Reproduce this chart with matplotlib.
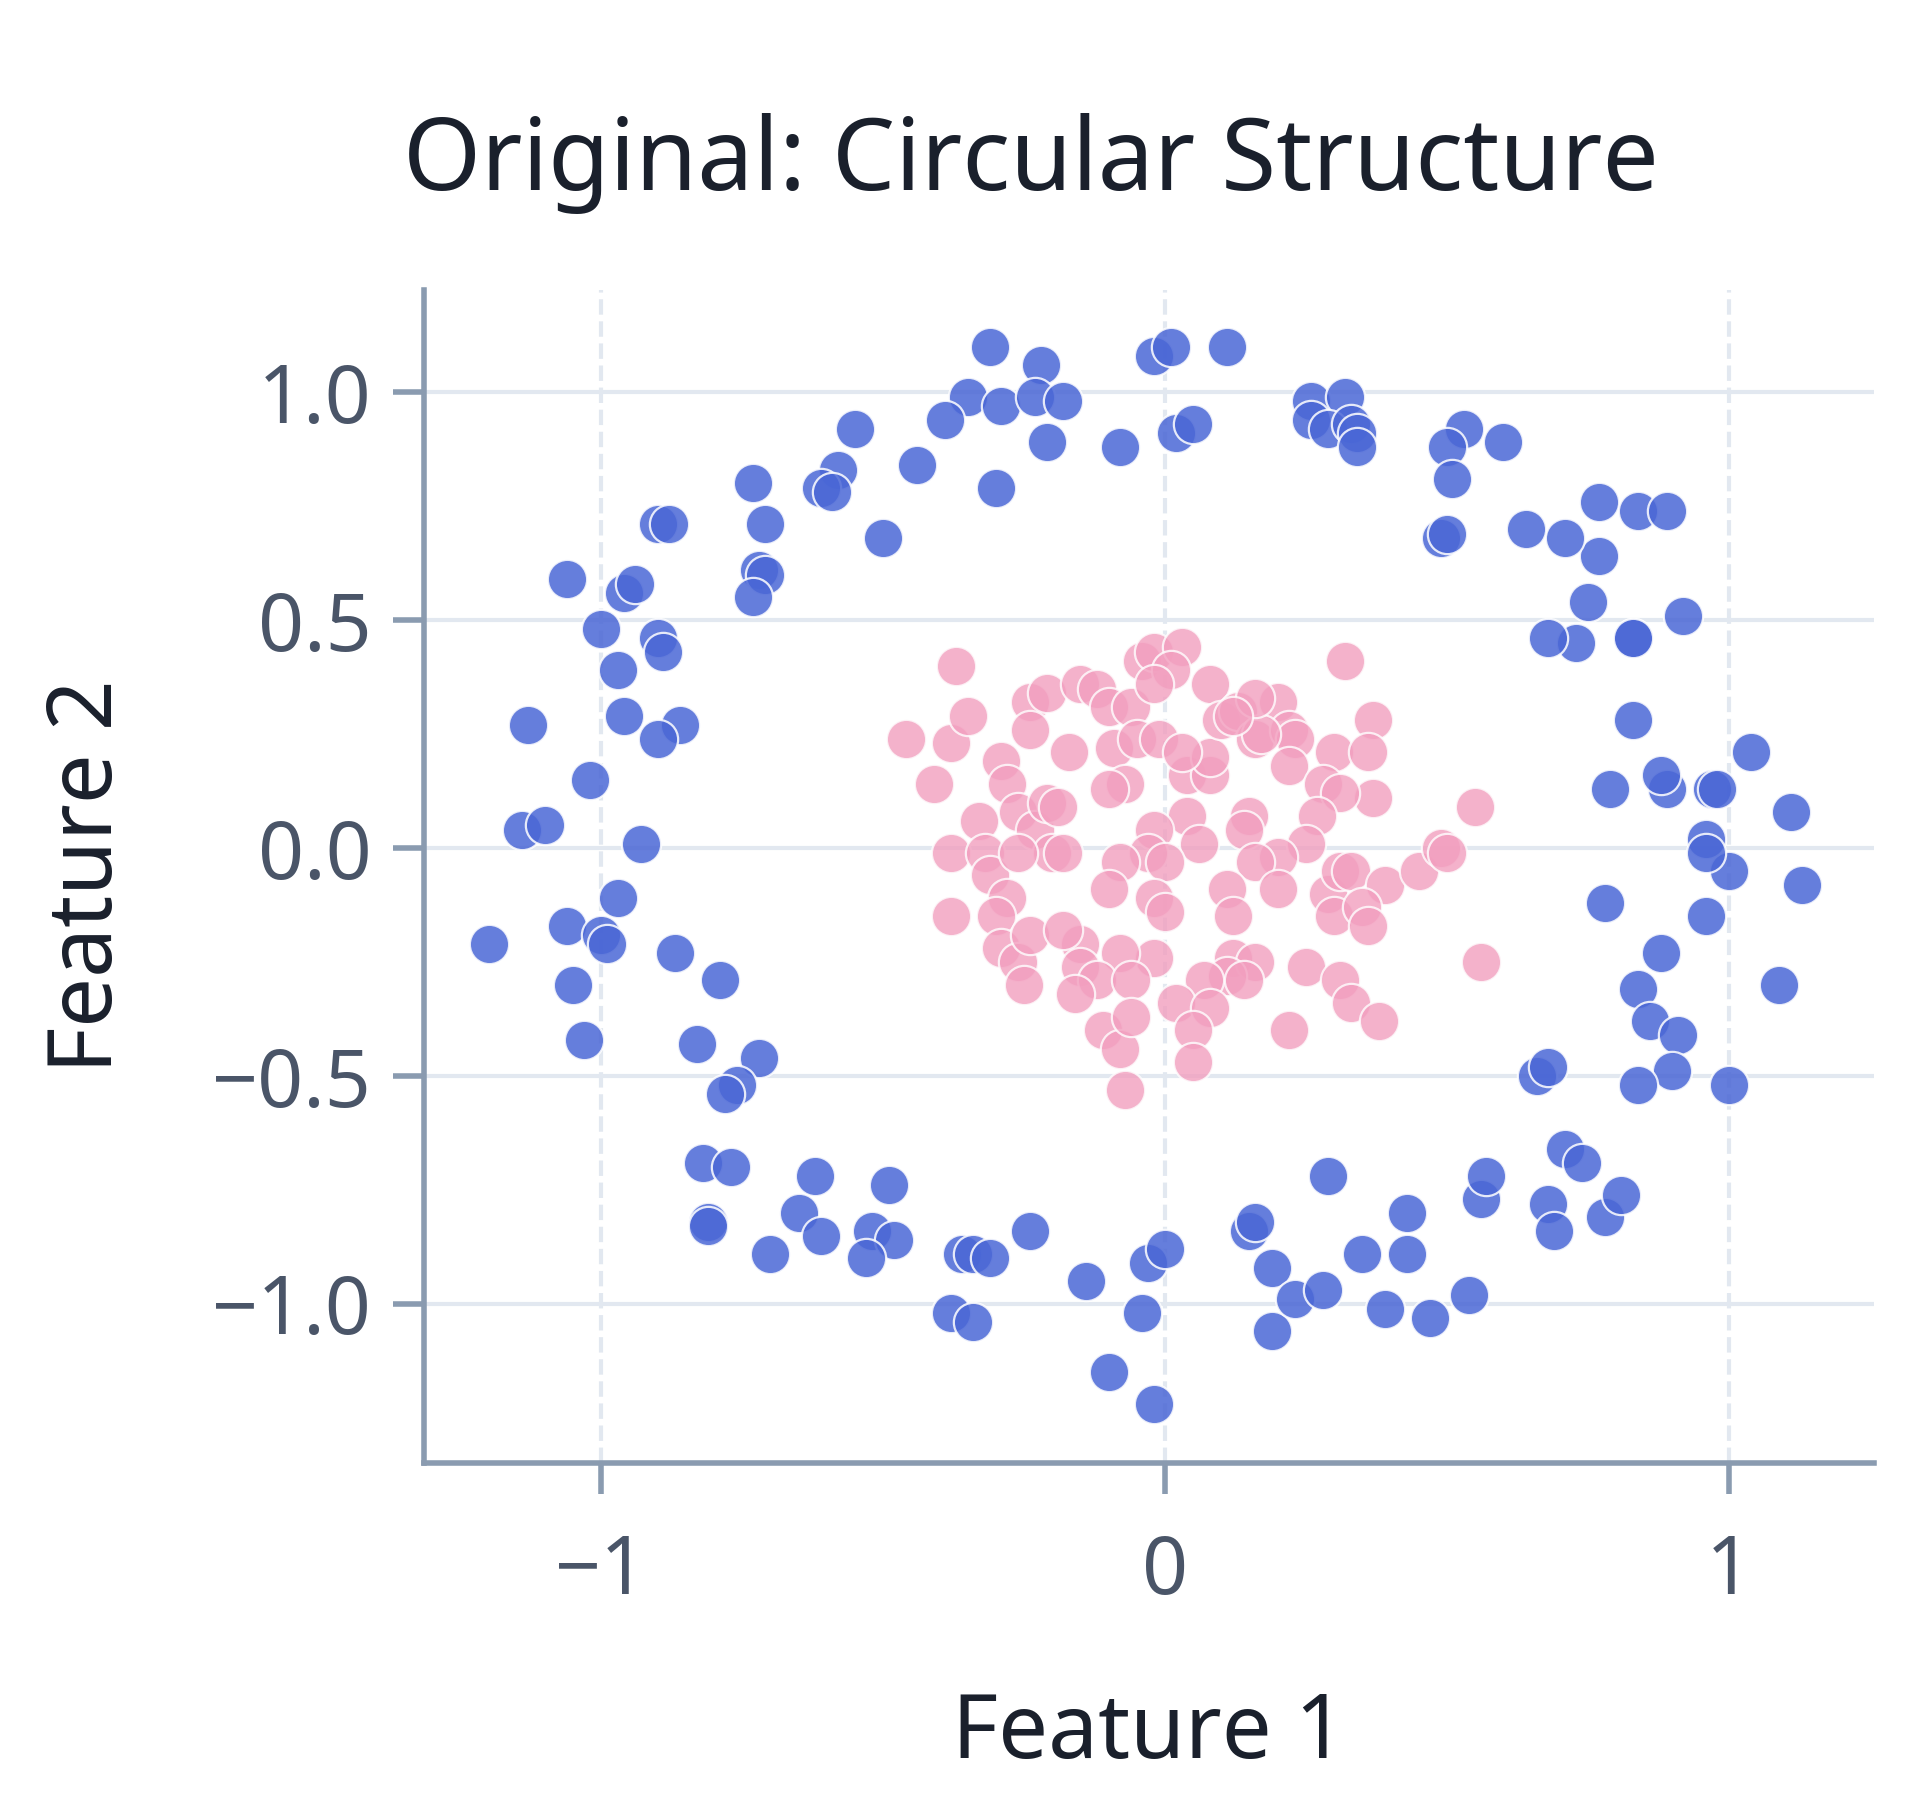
import numpy as np
import matplotlib
matplotlib.use("Agg")
import matplotlib.pyplot as plt

plt.rcParams['font.family'] = ['Noto Sans', 'DejaVu Sans']

# outer ring (class 0)
outer_x = [-0.31, -0.22, -0.02, 0.01, 0.11, -0.35, -0.29, -0.23, -0.18, -0.21, -0.08, 0.02, 0.05,
           -0.39, -0.30, -0.55, -0.44, -0.58, -0.61, -0.59, -0.73, -0.71, -0.50, -0.90, -0.88, -0.72,
           -0.71, -0.73, -1.06, -0.96, -0.94, -1.00, -0.90, -0.89, -0.97, -1.13, -0.96, -0.86, -0.90,
           -1.02, -1.14, -1.10, -0.93, -0.97, -1.06, -1.00, -0.99, -1.20, -0.87, -0.79, -1.05, -1.03,
           -0.83, -0.72, -0.76, -0.78, -0.82, -0.77, -0.81, -0.81, -0.62, -0.65, -0.49, -0.61, -0.70,
           -0.52, -0.48, -0.53, -0.36, -0.34, -0.31, -0.24, -0.38, -0.34, -0.14, -0.10, -0.02, -0.04,
           -0.03, 0.00, 0.15, 0.16, 0.19, 0.19, 0.23, 0.28, 0.29, 0.35, 0.39, 0.43, 0.43, 0.47, 0.54,
           0.56, 0.57, 0.66, 0.68, 0.68, 0.69, 0.71, 0.74, 0.78, 0.81, 0.78, 0.88, 0.84, 0.86, 0.91,
           0.90, 0.84, 1.00, 0.96, 1.09, 1.13, 1.00, 0.96, 0.96, 1.11, 0.97, 0.98, 1.04, 0.89, 0.88,
           0.79, 0.83, 0.92, 0.83, 0.83, 0.75, 0.73, 0.68, 0.77, 0.71, 0.64, 0.77, 0.84, 0.89, 0.60,
           0.53, 0.50, 0.51, 0.49, 0.50, 0.26, 0.32, 0.26, 0.29, 0.33, 0.34, 0.34]
outer_y = [1.10, 1.06, 1.08, 1.10, 1.10, 0.99, 0.97, 0.99, 0.98, 0.89, 0.88, 0.91, 0.93,
           0.94, 0.79, 0.92, 0.84, 0.83, 0.79, 0.78, 0.80, 0.71, 0.68, 0.71, 0.71, 0.61,
           0.60, 0.55, 0.59, 0.56, 0.58, 0.48, 0.46, 0.43, 0.39, 0.27, 0.29, 0.27, 0.24,
           0.15, 0.04, 0.05, 0.01, -0.11, -0.17, -0.19, -0.21, -0.21, -0.23, -0.29, -0.30, -0.42,
           -0.43, -0.46, -0.52, -0.54, -0.69, -0.70, -0.82, -0.83, -0.72, -0.80, -0.74, -0.85, -0.89,
           -0.84, -0.86, -0.90, -0.89, -0.89, -0.90, -0.84, -1.02, -1.04, -0.95, -1.15, -1.22, -1.02,
           -0.91, -0.88, -0.84, -0.82, -0.92, -1.06, -0.99, -0.97, -0.72, -0.89, -1.01, -0.80, -0.89, -1.03, -0.98,
           -0.77, -0.72, -0.50, -0.48, -0.78, -0.84, -0.66, -0.69, -0.81, -0.76, -0.12, -0.23, -0.31, -0.38, -0.41,
           -0.49, -0.52, -0.52, -0.15, -0.30, -0.08, -0.05, 0.02, -0.01, 0.08, 0.13, 0.13, 0.21, 0.13, 0.16,
           0.13, 0.28, 0.51, 0.46, 0.46, 0.54, 0.45, 0.46, 0.64, 0.68, 0.70, 0.76, 0.74, 0.74, 0.89,
           0.92, 0.88, 0.81, 0.68, 0.69, 0.98, 0.99, 0.94, 0.92, 0.93, 0.91, 0.88]

# inner cluster (class 1)
inner_x = [-0.37, -0.46, -0.38, -0.35, -0.41, -0.38, -0.33, -0.32, -0.31, -0.28, -0.38, -0.30, -0.29,
           -0.26, -0.25, -0.24, -0.29, -0.28, -0.24, -0.24, -0.21, -0.26, -0.23, -0.21, -0.19, -0.20,
           -0.18, -0.26, -0.17, -0.15, -0.12, -0.10, -0.06, -0.04, -0.02, 0.03, 0.01, -0.02, 0.08,
           -0.09, -0.05, -0.01, -0.07, -0.10, 0.04, 0.08, 0.08, 0.10, 0.13, 0.16, 0.20, 0.22, 0.23,
           0.17, 0.22, 0.30, 0.32, 0.37, 0.36, 0.37, 0.28, 0.31, 0.27, 0.25, 0.20, 0.15, 0.14, 0.16,
           0.04, 0.06, -0.02, -0.03, 0.00, -0.02, 0.00, 0.11, 0.20, 0.29, 0.31, 0.33, 0.39, 0.30,
           0.35, 0.36, 0.12, 0.12, 0.16, 0.25, 0.31, 0.33, 0.38, 0.22, 0.11, 0.14, 0.07, 0.02, 0.08,
           0.05, 0.05, -0.02, -0.08, -0.15, -0.18, -0.15, -0.12, -0.16, -0.11, -0.08, -0.07, -0.06,
           -0.06, 0.45, 0.49, 0.50, 0.55, 0.56, 0.16, 0.12, 0.03, -0.08, -0.10]
inner_y = [0.40, 0.24, 0.23, 0.29, 0.14, -0.01, 0.06, -0.01, -0.06, -0.11, -0.15, -0.15, -0.22,
           -0.25, -0.30, -0.19, 0.19, 0.14, 0.32, 0.26, 0.34, 0.08, 0.04, 0.10, 0.09, -0.01,
           -0.01, -0.01, 0.21, 0.36, 0.35, 0.31, 0.31, 0.41, 0.43, 0.44, 0.39, 0.36, 0.36,
           0.22, 0.24, 0.24, 0.14, 0.13, 0.16, 0.16, 0.20, 0.28, 0.30, 0.24, 0.32, 0.26, 0.24,
           0.25, 0.18, 0.21, 0.41, 0.28, 0.21, 0.11, 0.14, 0.12, 0.07, 0.01, -0.02, 0.07, 0.04, -0.03,
           0.07, 0.01, 0.04, -0.01, -0.03, -0.11, -0.14, -0.09, -0.09, -0.10, -0.05, -0.05, -0.08, -0.15,
           -0.13, -0.17, -0.15, -0.24, -0.25, -0.26, -0.29, -0.34, -0.38, -0.40, -0.28, -0.29, -0.29, -0.34, -0.35,
           -0.40, -0.47, -0.24, -0.23, -0.21, -0.18, -0.26, -0.29, -0.32, -0.40, -0.44, -0.53, -0.29,
           -0.37, -0.05, 0.00, -0.01, 0.09, -0.25, 0.33, 0.29, 0.21, -0.03, -0.09]

xticks = [-1, 0, 1]
yticks = [-1.0, -0.5, 0.0, 0.5, 1.0]

fig = plt.figure(figsize=(9.6, 9.065), dpi=200)
ax = fig.add_axes([0.221, 0.193, 0.755, 0.647])

ax.scatter(outer_x, outer_y, s=200, color='#4a67d6', alpha=0.85, edgecolors='white', linewidths=0.8, zorder=3)
ax.scatter(inner_x, inner_y, s=200, color='#f29fbf', alpha=0.8, edgecolors='white', linewidths=0.8, zorder=3)

ax.set_xlim(-1.314, 1.258)
ax.set_ylim(-1.349, 1.224)
ax.set_xticks(xticks)
ax.set_xticklabels(['\u22121', '0', '1'])
ax.set_yticks(yticks)
ax.set_yticklabels(['\u22121.0', '\u22120.5', '0.0', '0.5', '1.0'])

ax.grid(axis='y', color='#e2e8f0', linewidth=1.5, zorder=0)
ax.grid(axis='x', color='#e2e8f0', linewidth=1.5, linestyle='--', zorder=0)
for s in ['top', 'right']:
    ax.spines[s].set_visible(False)
for s in ['left', 'bottom']:
    ax.spines[s].set_color('#8a9bb0')
    ax.spines[s].set_linewidth(2)
ax.tick_params(colors='#4a5568', labelsize=29, length=11, width=2, pad=8)
ax.tick_params(axis='x', color='#8a9bb0', pad=14)
ax.tick_params(axis='y', color='#8a9bb0')

fig.text(0.537, 0.91, 'Original: Circular Structure', fontsize=36, color='#1a202c', ha='center', va='center')
ax.set_xlabel('Feature 1', fontsize=32, color='#1a202c', labelpad=28)
ax.set_ylabel('Feature 2', fontsize=32, color='#1a202c', labelpad=28)

fig.savefig('out.png', dpi=200, facecolor='white')
